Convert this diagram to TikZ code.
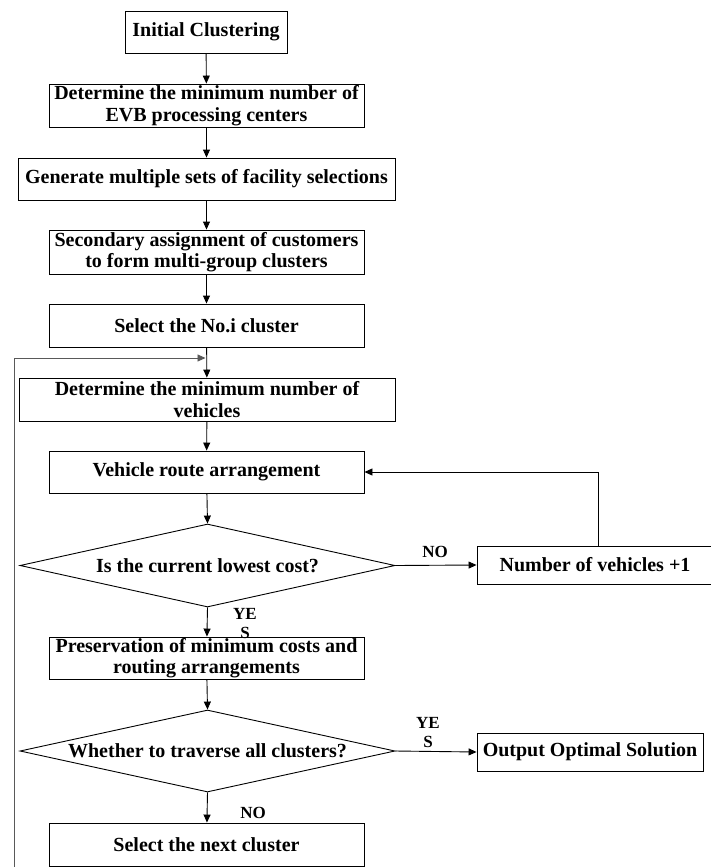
\documentclass[tikz,border=0pt]{standalone}
\usepackage{fontspec}
\setmainfont{Liberation Serif}
\usetikzlibrary{shapes.geometric,arrows.meta}
\begin{document}
\begin{tikzpicture}[x=1pt,y=-1pt,
  every node/.style={font=\fontsize{20}{21.5}\selectfont\bfseries, inner sep=0pt, align=center},
  box/.style={draw, line width=0.9pt, minimum height=42pt},
  dia/.style={draw, diamond, line width=0.9pt, inner sep=0pt},
  lbl/.style={font=\fontsize{17}{19}\selectfont\bfseries},
  arr/.style={draw, line width=0.9pt, -{Triangle[length=8pt,width=7pt]}},
  ln/.style={draw, line width=0.9pt}]
\useasboundingbox (0,0) rectangle (710,867);
\node[box, minimum width=162pt] (b1) at (206,32) {Initial Clustering};
\node[box, minimum width=315pt, minimum height=43pt] (b2) at (206.5,105.5) {Determine the minimum number of\\EVB processing centers};
\node[box, minimum width=377pt] (b3) at (206.5,179) {Generate multiple sets of facility selections};
\node[box, minimum width=315pt, minimum height=44pt] (b4) at (206.5,252) {Secondary assignment of customers\\to form multi-group clusters};
\node[box, minimum width=315pt, minimum height=43pt] (b5) at (206.5,325.5) {Select the No.i cluster};
\node[box, minimum width=376pt, minimum height=43pt] (b6) at (207,399.5) {Determine the minimum number of\\vehicles};
\node[box, minimum width=315pt] (b7) at (206.5,472) {Vehicle route arrangement};
\node[dia, minimum width=375pt, minimum height=83pt] (d1) at (207.5,565.5) {};
\node (d1t) at (d1.center) {Is the current lowest cost?};
\node[box, minimum width=236pt, minimum height=38pt] (b8) at (595,565) {Number of vehicles +1};
\node[box, minimum width=315pt] (b9) at (206.5,658) {Preservation of minimum costs and\\routing arrangements};
\node[dia, minimum width=375pt, minimum height=82pt] (d2) at (207.5,751) {};
\node (d2t) at (d2.center) {Whether to traverse all clusters?};
\node[box, minimum width=226pt, minimum height=38pt] (b11) at (590,752) {Output Optimal Solution};
\node[box, minimum width=315pt, minimum height=43pt] (b10) at (206.5,844.5) {Select the next cluster};
% labels
\node[lbl] (l1) at (435,552) {NO};
\node[lbl] (l2) at (245,624) {YE\\S};
\node[lbl] (l3) at (428,733) {YE\\S};
\node[lbl] (l4) at (253,813) {NO};
% connectors
\path[arr] (b1) -- (b2);
\path[arr] (b2) -- (b3);
\path[arr] (b3) -- (b4);
\path[arr] (b4) -- (b5);
\path[arr] (b5) -- (b6);
\path[arr] (b6) -- (b7);
\path[arr] (b7) -- (d1.north);
\path[arr] (d1.east) -- (b8.west);
\path[arr] ([xshift=3.5pt]b8.north) |- (b7.east);
\path[arr] (d1.south) -- (b9);
\path[arr] (b9) -- (d2.north);
\path[arr] (d2.east) -- (b11.west);
\path[arr] (d2.south) -- (b10);
\coordinate (lb) at (14,870);
\coordinate (lt) at (14,358);
\coordinate (la) at (205.5,358);
\path[arr, draw=black!65] (lb) -- (lt) -- (la);
\end{tikzpicture}
\end{document}
